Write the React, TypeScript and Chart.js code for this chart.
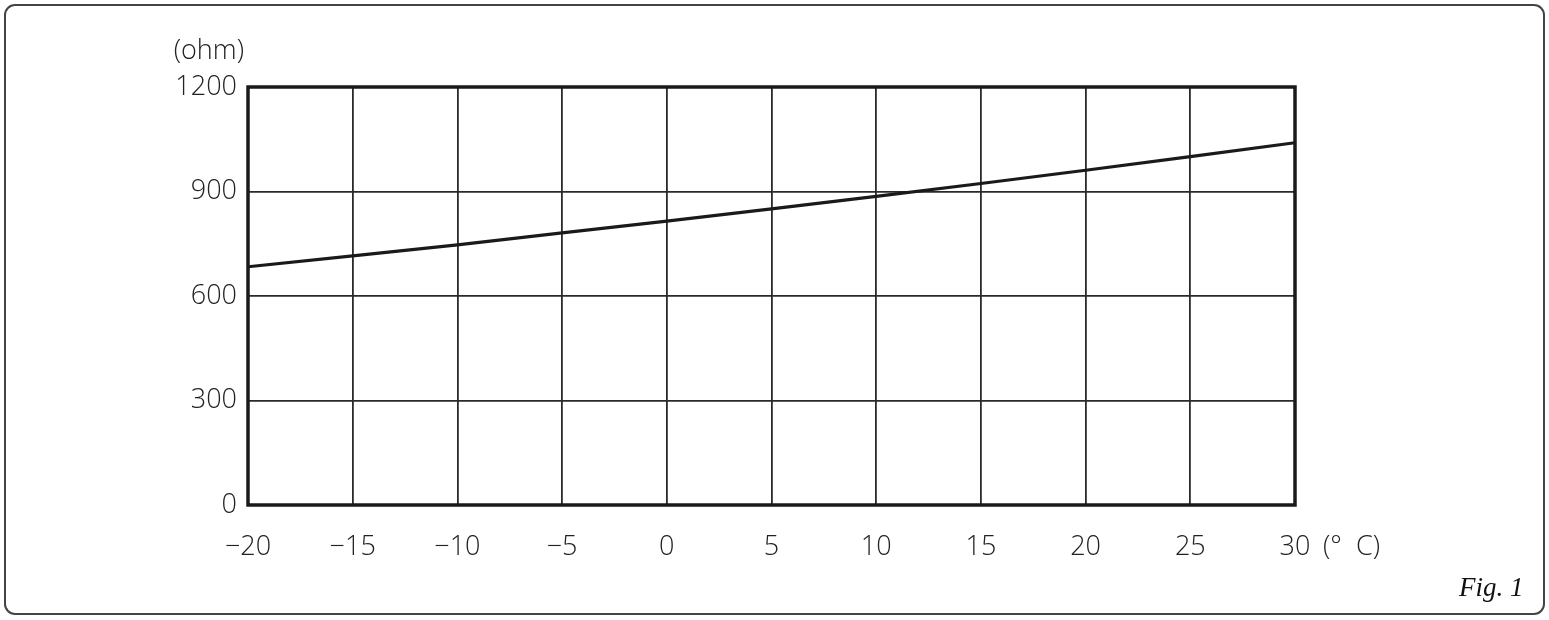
import React, { useEffect, useRef } from "react";
import { Chart, registerables } from "chart.js";

Chart.register(...registerables);

const temperatures = [-20, -15, -10, -5, 0, 5, 10, 15, 20, 25, 30];
const resistance = [684, 715, 747, 781, 815, 850, 886, 923, 961, 1000, 1040];
const yTicks = [0, 300, 600, 900, 1200];
const yUnit = "(ohm)";
const xUnit = "(°  C)";
const figLabel = "Fig. 1";

const FONT = "'Open Sans', 'DejaVu Sans', sans-serif";

export default function App() {
  const ref = useRef<HTMLCanvasElement | null>(null);

  useEffect(() => {
    if (!ref.current) return;
    const framePlugin = {
      id: "framePlugin",
      afterDraw(chart: any) {
        const { ctx, chartArea } = chart;
        const { left, top, right, bottom } = chartArea;
        ctx.save();
        ctx.strokeStyle = "#1a1a1a";
        ctx.lineWidth = 3.5;
        ctx.strokeRect(left, top, right - left, bottom - top);
        ctx.fillStyle = "#222";
        ctx.font = `300 27px ${FONT}`;
        ctx.textAlign = "right";
        ctx.textBaseline = "middle";
        ctx.fillText(yUnit, left - 4, top - 36);
        ctx.textAlign = "left";
        ctx.fillText(xUnit, right + 28, bottom + 42);
        ctx.restore();
      },
    };
    const chart = new Chart(ref.current, {
      type: "line",
      data: {
        datasets: [
          {
            data: temperatures.map((t, i) => ({ x: t, y: resistance[i] })),
            borderColor: "#1a1a1a",
            borderWidth: 3.2,
            pointRadius: 0,
            tension: 0,
          },
        ],
      },
      options: {
        animation: false,
        responsive: false,
        maintainAspectRatio: false,
        layout: { padding: { top: 87, right: 254, left: 0, bottom: 0 } },
        plugins: { legend: { display: false }, tooltip: { enabled: false } },
        scales: {
          x: {
            type: "linear",
            min: -20,
            max: 30,
            afterFit: (s: any) => {
              s.height = 115;
            },
            afterBuildTicks: (s: any) => {
              s.ticks = temperatures.map((v) => ({ value: v }));
            },
            ticks: {
              color: "#222",
              font: { family: FONT, size: 27, weight: "300" },
              padding: 26,
              maxRotation: 0,
              autoSkip: false,
              callback: (v: any) => String(v).replace("-", "−"),
            },
            grid: { color: "#2a2a2a", lineWidth: 1.8, drawTicks: false },
            border: { display: false },
          },
          y: {
            min: 0,
            max: 1200,
            afterFit: (s: any) => {
              s.width = 248;
            },
            afterBuildTicks: (s: any) => {
              s.ticks = yTicks.map((v) => ({ value: v }));
            },
            ticks: {
              color: "#222",
              font: { family: FONT, size: 27, weight: "300" },
              padding: 11,
              callback: (v: any) => String(v),
            },
            grid: { color: "#2a2a2a", lineWidth: 1.8, drawTicks: false },
            border: { display: false },
          },
        },
      },
      plugins: [framePlugin],
    });
    return () => chart.destroy();
  }, []);

  return (
    <div style={{ position: "absolute", left: 0, top: 0, width: 1549, height: 620, background: "#fff" }}>
      <div
        style={{
          position: "absolute",
          left: 4,
          top: 4,
          width: 1537,
          height: 607,
          border: "2px solid #444",
          borderRadius: 11,
        }}
      />
      <canvas ref={ref} width={1549} height={620} style={{ position: "absolute", left: 0, top: 0 }} />
      <div
        style={{
          position: "absolute",
          left: 1459,
          top: 571,
          fontFamily: "'Liberation Serif', serif",
          fontStyle: "italic",
          fontSize: 27,
          color: "#111",
          lineHeight: "32px",
        }}
      >
        {figLabel}
      </div>
    </div>
  );
}
